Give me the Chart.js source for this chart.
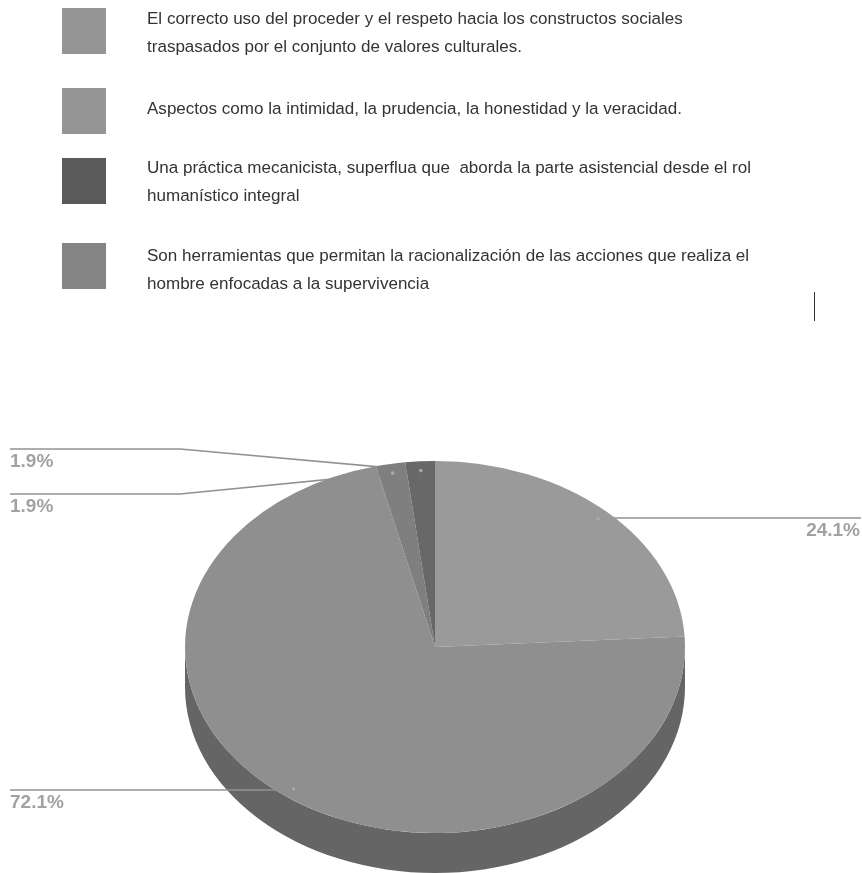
<!DOCTYPE html>
<html>
<head>
<meta charset="utf-8">
<title>Pie</title>
<script src="https://cdn.jsdelivr.net/npm/chart.js@4"></script>
<style>
    html, body { margin: 0; padding: 0; background: #fff; width: 862px; height: 873px; overflow: hidden; }
    #pieChart { position: absolute; left: 0; top: 0; filter: blur(0.4px); }
    .swatch { position: absolute; left: 62px; width: 44px; height: 46px; }
    .text {
        position: absolute; left: 147px; width: 700px;
        font: 17.05px/28px "Liberation Sans", Arial, sans-serif; color: #333; white-space: pre;
        filter: blur(0.3px);
    }
    #cursor { position: absolute; left: 814px; top: 292px; width: 1px; height: 29px; background: #333; }
</style>
</head>
<body>
<canvas id="pieChart" width="862" height="873"></canvas>
<div id="cursor"></div>
<script>
const legendTexts = [
    'El correcto uso del proceder y el respeto hacia los constructos sociales\ntraspasados por el conjunto de valores culturales.',
    'Aspectos como la intimidad, la prudencia, la honestidad y la veracidad.',
    'Una práctica mecanicista, superflua que  aborda la parte asistencial desde el rol\nhumanístico integral',
    'Son herramientas que permitan la racionalización de las acciones que realiza el\nhombre enfocadas a la supervivencia'
]
const legendColors = ['#959595', '#959595', '#5a5a5a', '#858585']
const swatchTops = [8, 88, 158, 243]
const textTops = [5, 95, 154, 242]

const sliceValues = [24.1, 72.1, 1.9, 1.9]
const sliceColors = ['#9a9a9a', '#8f8f8f', '#7f7f7f', '#686868']
const percentLabels = ['24.1%', '72.1%', '1.9%', '1.9%']

// where each leader line ends up, same order as the slices
const leaders = [
    { lineY: 518, endX: 861, textX: 860, align: 'right' },
    { lineY: 790, endX: 10, textX: 10, align: 'left' },
    { lineY: 494, endX: 10, elbowX: 180, textX: 10, align: 'left' },
    { lineY: 449, endX: 10, elbowX: 180, textX: 10, align: 'left' }
]

legendTexts.forEach((text, i) => {
    const sw = document.createElement('div')
    sw.className = 'swatch'
    sw.style.top = swatchTops[i] + 'px'
    sw.style.background = legendColors[i]
    document.body.appendChild(sw)

    const t = document.createElement('div')
    t.className = 'text'
    t.style.top = textTops[i] + 'px'
    t.textContent = text
    document.body.appendChild(t)
})

// squashed pie: top face centre y, vertical squash, thickness
const pieCenterY = 647
const squash = 186 / 250
const depth = 40

function anchorOf(arc) {
    const mid = (arc.startAngle + arc.endAngle) / 2
    return {
        x: arc.x + Math.cos(mid) * arc.outerRadius * 0.95,
        y: pieCenterY + Math.sin(mid) * arc.outerRadius * 0.95 * squash
    }
}

const tiltPlugin = {
    id: 'tilt',
    beforeDatasetsDraw(chart) {
        const ctx = chart.ctx
        const arcs = chart.getDatasetMeta(0).data
        const arc = arcs[0]
        const r = arc.outerRadius
        // side wall
        ctx.save()
        ctx.fillStyle = '#656565'
        ctx.beginPath()
        ctx.ellipse(arc.x, pieCenterY, r, r * squash, 0, 0, Math.PI)
        ctx.lineTo(arc.x - r, pieCenterY + depth)
        ctx.ellipse(arc.x, pieCenterY + depth, r, r * squash, 0, Math.PI, 0, true)
        ctx.closePath()
        ctx.fill()

        // leader lines go under the top face, only the dots show on it
        arcs.forEach((a, i) => {
            const p = anchorOf(a)
            const l = leaders[i]
            ctx.strokeStyle = '#929292'
            ctx.lineWidth = 1.6
            ctx.beginPath()
            ctx.moveTo(p.x, p.y)
            if (l.elbowX) ctx.lineTo(l.elbowX, l.lineY)
            else ctx.lineTo(p.x, l.lineY)
            ctx.lineTo(l.endX, l.lineY)
            ctx.stroke()
        })
        ctx.restore()

        ctx.save()
        ctx.translate(arc.x, pieCenterY)
        ctx.scale(1, squash)
        ctx.translate(-arc.x, -arc.y)
    },
    afterDatasetsDraw(chart) {
        const ctx = chart.ctx
        ctx.restore()

        chart.getDatasetMeta(0).data.forEach((arc, i) => {
            const p = anchorOf(arc)
            const l = leaders[i]

            ctx.fillStyle = '#a8a8a8'
            ctx.beginPath()
            ctx.arc(p.x, p.y, 1.8, 0, Math.PI * 2)
            ctx.fill()

            ctx.fillStyle = '#a2a2a2'
            ctx.font = 'bold 19px "Liberation Sans", Arial, sans-serif'
            ctx.textAlign = l.align
            ctx.textBaseline = 'top'
            ctx.fillText(percentLabels[i], l.textX, l.lineY + 3)
        })
    }
}

new Chart(document.getElementById('pieChart'), {
    type: 'pie',
    data: {
        labels: percentLabels,
        datasets: [{
            data: sliceValues,
            backgroundColor: sliceColors,
            borderWidth: 0
        }]
    },
    options: {
        responsive: false,
        animation: false,
        layout: { padding: { left: 185, right: 177, top: 0, bottom: 0 } },
        plugins: {
            legend: { display: false },
            tooltip: { enabled: false }
        }
    },
    plugins: [tiltPlugin]
})
</script>
</body>
</html>
